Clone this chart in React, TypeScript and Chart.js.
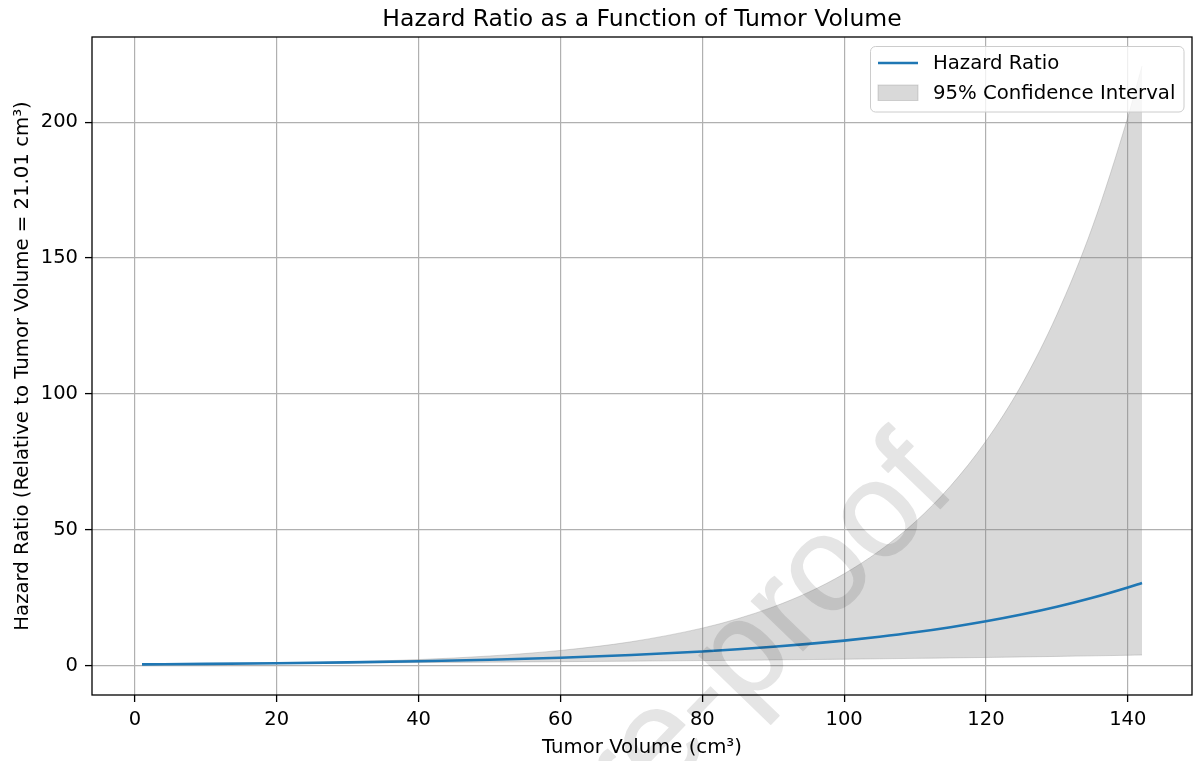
import React, { useEffect, useRef } from "react";
import { Chart, registerables } from "chart.js";

Chart.register(...registerables);

// Tumor volume (cm³) sample positions
const tumorVolume = [1, 10, 20, 30, 40, 50, 60, 70, 80, 85, 90, 95, 100, 105, 110, 115, 120, 125, 130, 135, 140, 142];
// Hazard ratio relative to 21.01 cm³
const hazardRatio = [0.57, 0.73, 0.97, 1.29, 1.71, 2.27, 3.01, 3.99, 5.29, 6.1, 7.02, 8.09, 9.31, 10.73, 12.35, 14.23, 16.39, 18.87, 21.74, 25.04, 28.83, 30.51];
// 95% CI bounds
const ciUpper = [0.41, 0.61, 0.96, 1.49, 2.33, 3.64, 5.69, 8.89, 13.89, 17.36, 21.69, 27.11, 33.89, 42.35, 52.92, 66.16, 82.69, 103.3, 129.2, 161.4, 201.8, 220.6];
const ciLower = [0.8, 0.88, 0.99, 1.11, 1.24, 1.39, 1.56, 1.75, 1.97, 2.08, 2.21, 2.34, 2.47, 2.62, 2.77, 2.94, 3.11, 3.29, 3.49, 3.69, 3.91, 4.0];

const xTicks = [0, 20, 40, 60, 80, 100, 120, 140];
const yTicks = [0, 50, 100, 150, 200];

const TITLE = "Hazard Ratio as a Function of Tumor Volume";
const X_LABEL = "Tumor Volume (cm³)";
const Y_LABEL = "Hazard Ratio (Relative to Tumor Volume = 21.01 cm³)";
const LEGEND_LINE = "Hazard Ratio";
const LEGEND_BAND = "95% Confidence Interval";
const WATERMARK = "Journal Pre-proof";

const FONT = '"DejaVu Sans", sans-serif';
const BLUE = "#1f77b4";
const BAND = "rgba(128,128,128,0.3)";

export default function App() {
  const ref = useRef<HTMLCanvasElement | null>(null);

  useEffect(() => {
    if (!ref.current) return;
    const decor = {
      id: "decor",
      afterDraw(chart: any) {
        const ctx = chart.ctx as CanvasRenderingContext2D;
        const a = chart.chartArea;
        ctx.save();
        // frame
        ctx.strokeStyle = "#000";
        ctx.lineWidth = 1.3;
        ctx.strokeRect(a.left, a.top, a.right - a.left, a.bottom - a.top);
        // title
        ctx.fillStyle = "#000";
        ctx.font = `23.5px ${FONT}`;
        ctx.textAlign = "center";
        ctx.textBaseline = "alphabetic";
        ctx.fillText(TITLE, (a.left + a.right) / 2, 26);
        // x label
        ctx.font = `19.7px ${FONT}`;
        ctx.fillText(X_LABEL, (a.left + a.right) / 2, 753);
        // y label
        ctx.save();
        ctx.translate(28, (a.top + a.bottom) / 2);
        ctx.rotate(-Math.PI / 2);
        ctx.fillText(Y_LABEL, 0, 0);
        ctx.restore();
        // legend
        const lx = 870.5, ly = 46.5, lw = 313.5, lh = 65.5;
        ctx.beginPath();
        ctx.roundRect(lx, ly, lw, lh, 5);
        ctx.fillStyle = "rgba(255,255,255,0.8)";
        ctx.fill();
        ctx.strokeStyle = "#cccccc";
        ctx.lineWidth = 1;
        ctx.stroke();
        ctx.strokeStyle = BLUE;
        ctx.lineWidth = 2.6;
        ctx.beginPath();
        ctx.moveTo(878, 63);
        ctx.lineTo(918, 63);
        ctx.stroke();
        ctx.fillStyle = BAND;
        ctx.fillRect(878, 85, 40, 15.5);
        ctx.strokeStyle = BAND;
        ctx.lineWidth = 1;
        ctx.strokeRect(878, 85, 40, 15.5);
        ctx.fillStyle = "#000";
        ctx.font = `19.7px ${FONT}`;
        ctx.textAlign = "left";
        ctx.textBaseline = "middle";
        ctx.fillText(LEGEND_LINE, 933, 64);
        ctx.fillText(LEGEND_BAND, 933, 94);
        // watermark (drawn opaque off-screen, then composited translucent)
        const off = document.createElement("canvas");
        off.width = chart.width;
        off.height = chart.height;
        const o = off.getContext("2d") as CanvasRenderingContext2D;
        o.translate(958, 490);
        o.rotate((-46 * Math.PI) / 180);
        o.font = `135px "Liberation Sans", Arial, sans-serif`;
        o.fillStyle = "#000";
        o.strokeStyle = "#000";
        o.lineWidth = 1.5;
        o.lineJoin = "round";
        o.textAlign = "right";
        o.textBaseline = "alphabetic";
        o.fillText(WATERMARK, 0, 0);
        o.strokeText(WATERMARK, 0, 0);
        ctx.globalAlpha = 0.1;
        ctx.drawImage(off, 0, 0);
        ctx.restore();
      },
    };

    const chart = new Chart(ref.current, {
      type: "line",
      data: {
        datasets: [
          {
            label: LEGEND_LINE,
            data: tumorVolume.map((x, i) => ({ x, y: hazardRatio[i] })),
            borderColor: BLUE,
            borderWidth: 2.6,
            pointRadius: 0,
            fill: false,
            cubicInterpolationMode: "monotone",
          },
          {
            label: LEGEND_BAND + " upper",
            data: tumorVolume.map((x, i) => ({ x, y: ciUpper[i] })),
            borderColor: BAND,
            borderWidth: 1,
            backgroundColor: BAND,
            pointRadius: 0,
            fill: "+1",
            cubicInterpolationMode: "monotone",
          },
          {
            label: LEGEND_BAND + " lower",
            data: tumorVolume.map((x, i) => ({ x, y: ciLower[i] })),
            borderColor: BAND,
            borderWidth: 1,
            backgroundColor: BAND,
            pointRadius: 0,
            fill: false,
            cubicInterpolationMode: "monotone",
          },
        ],
      },
      options: {
        animation: false,
        responsive: false,
        devicePixelRatio: 1,
        layout: { padding: { top: 37, right: 1, left: 0, bottom: 0 } },
        plugins: {
          legend: { display: false },
          title: { display: false },
          tooltip: { enabled: false },
        },
        scales: {
          x: {
            type: "linear",
            min: -6.05,
            max: 149.05,
            afterBuildTicks: (s: any) => {
              s.ticks = xTicks.map((v) => ({ value: v }));
            },
            afterFit: (s: any) => {
              s.height = 66;
            },
            ticks: {
              autoSkip: false,
              maxRotation: 0,
              color: "#000",
              padding: 6,
              font: { family: FONT, size: 19.5 },
            },
            grid: {
              color: "#b0b0b0",
              lineWidth: 1.2,
              tickColor: "#000",
              tickLength: 7,
              tickWidth: 1.3,
            },
            border: { display: false },
          },
          y: {
            type: "linear",
            min: -10.7,
            max: 231.3,
            afterBuildTicks: (s: any) => {
              s.ticks = yTicks.map((v) => ({ value: v }));
            },
            afterFit: (s: any) => {
              s.width = 92;
            },
            ticks: {
              color: "#000",
              padding: 7,
              font: { family: FONT, size: 19.5 },
            },
            grid: {
              color: "#b0b0b0",
              lineWidth: 1.2,
              tickColor: "#000",
              tickLength: 7,
              tickWidth: 1.3,
            },
            border: { display: false },
          },
        },
      },
      plugins: [decor],
    });
    return () => chart.destroy();
  }, []);

  return (
    <div style={{ position: "absolute", left: 0, top: 0, width: 1193, height: 761, background: "#fff" }}>
      <canvas ref={ref} width={1193} height={761} style={{ width: 1193, height: 761, display: "block" }} />
    </div>
  );
}
